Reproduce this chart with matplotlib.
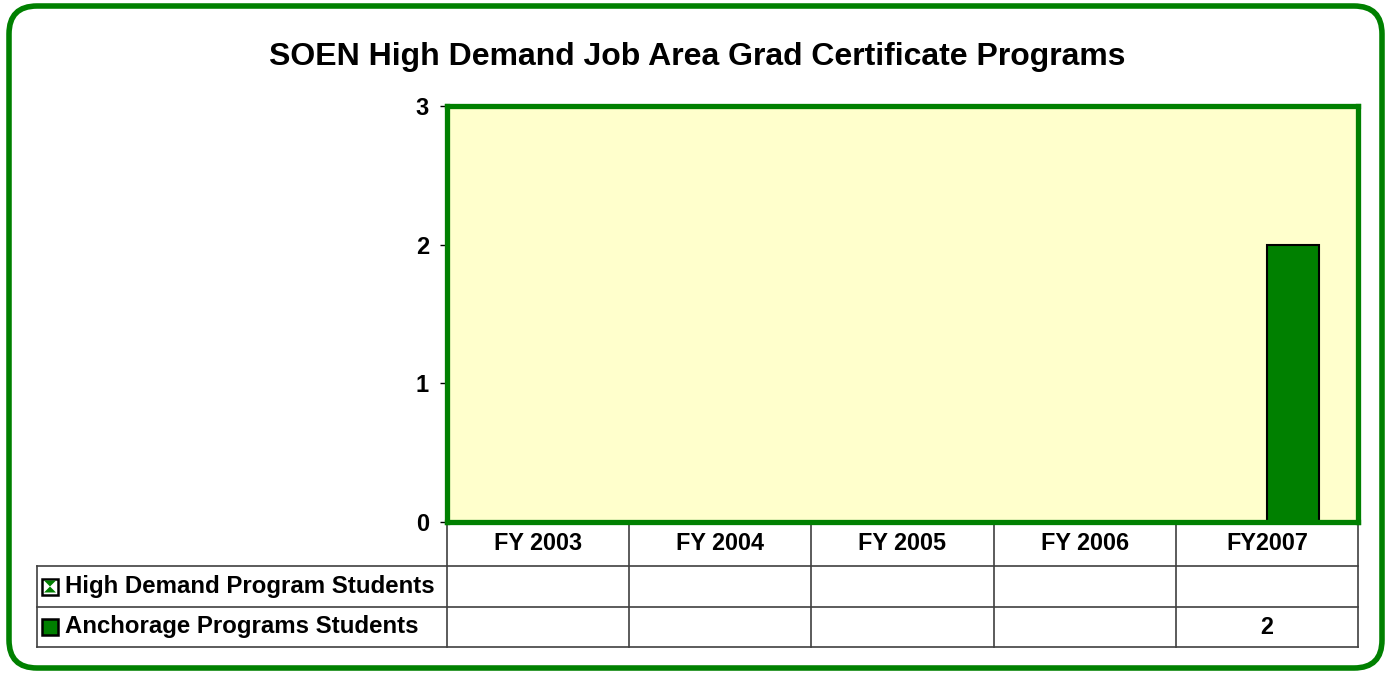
import numpy as np
import matplotlib.pyplot as plt
from matplotlib.patches import FancyBboxPatch, Rectangle, Polygon
from matplotlib.transforms import IdentityTransform, blended_transform_factory

plt.rcParams['font.family'] = ['Liberation Sans', 'DejaVu Sans']
plt.rcParams['font.weight'] = 'bold'

# data
years = ['FY 2003', 'FY 2004', 'FY 2005', 'FY 2006', 'FY2007']
high_demand = [np.nan, np.nan, np.nan, np.nan, np.nan]
anchorage = [np.nan, np.nan, np.nan, np.nan, 2]
series_names = ['High Demand Program Students', 'Anchorage Programs Students']

W, H = 1391, 674
green = '#008000'
fig = plt.figure(figsize=(W / 100, H / 100), dpi=100)

def fx(x):
    return x / W

def fy(y):
    return 1 - y / H

# plot area (pixels)
L, R, T, B = 447, 1358, 106, 522
ax = fig.add_axes([fx(L), fy(B), fx(R - L), (B - T) / H])
ax.set_facecolor('#FFFFCC')

x = np.arange(len(years))
w = 0.286
ax.bar(x - w / 2, np.nan_to_num(high_demand), w, color='white', edgecolor='black', lw=1.5)
ax.bar(x + w / 2, np.nan_to_num(anchorage), w, color=green, edgecolor='black', lw=1.5)

ax.set_xlim(-0.5, len(years) - 0.5)
ax.set_ylim(0, 3)
ax.set_yticks([0, 1, 2, 3])
ax.set_xticks([])
ax.tick_params(axis='y', labelsize=17, length=5, width=1, color='black', pad=8)
for s in ax.spines.values():
    s.set_color(green)
    s.set_linewidth(3.8)

# data table below the plot
tr = blended_transform_factory(ax.transData, ax.transAxes)
ph = B - T
def ay(py):
    return (B - py) / ph

rows_y = [522, 566, 607, 647]
left_x = -0.5 - (L - 37) / ((R - L) / len(years))
lc = '#404040'
for yy in rows_y[1:]:
    ax.plot([left_x, len(years) - 0.5], [ay(yy)] * 2, color=lc, lw=1.2, transform=tr, clip_on=False)
ax.plot([left_x, left_x], [ay(566), ay(647)], color=lc, lw=1.2, transform=tr, clip_on=False)
for b in np.arange(len(years) + 1) - 0.5:
    ax.plot([b, b], [ay(522), ay(647)], color=lc, lw=1.2, transform=tr, clip_on=False)

for i, yr in enumerate(years):
    ax.text(i, ay((rows_y[0] + rows_y[1]) / 2), yr, ha='center', va='center',
            fontsize=16.8, fontweight='bold', transform=tr)

for r, (name, vals) in enumerate(zip(series_names, [high_demand, anchorage])):
    yc = (rows_y[r + 1] + rows_y[r + 2]) / 2
    fig.text(fx(65), fy(yc), name, ha='left', va='center', fontsize=17.3, fontweight='bold')
    for i, v in enumerate(vals):
        if not np.isnan(v):
            ax.text(i, ay(yc), f'{v:g}', ha='center', va='center',
                    fontsize=16.8, fontweight='bold', transform=tr)

# legend keys in the table
yc1 = (rows_y[1] + rows_y[2]) / 2
yc2 = (rows_y[2] + rows_y[3]) / 2
s = 16
fig.patches.append(Rectangle((42, H - yc1 - s / 2), s, s, facecolor='white', edgecolor='black',
                             lw=1.8, transform=IdentityTransform()))
fig.patches.append(Polygon([(44, H - yc1 - 6), (56, H - yc1 - 6), (50, H - yc1),
                            (56, H - yc1 + 6), (44, H - yc1 + 6), (50, H - yc1)],
                           closed=True, facecolor=green, edgecolor='none', transform=IdentityTransform()))
fig.patches.append(Rectangle((42, H - yc2 - s / 2), s, s, facecolor=green, edgecolor='black',
                             lw=1.8, transform=IdentityTransform()))

# title
fig.text(fx(697), fy(57), 'SOEN High Demand Job Area Grad Certificate Programs',
         ha='center', va='center', fontsize=23, fontweight='bold')

# rounded outer frame
fig.patches.append(FancyBboxPatch((9, 6), W - 18, H - 12, boxstyle='round,pad=0,rounding_size=28',
                                  facecolor='none', edgecolor=green, lw=4,
                                  transform=IdentityTransform()))

fig.savefig('out.png', dpi=100)
